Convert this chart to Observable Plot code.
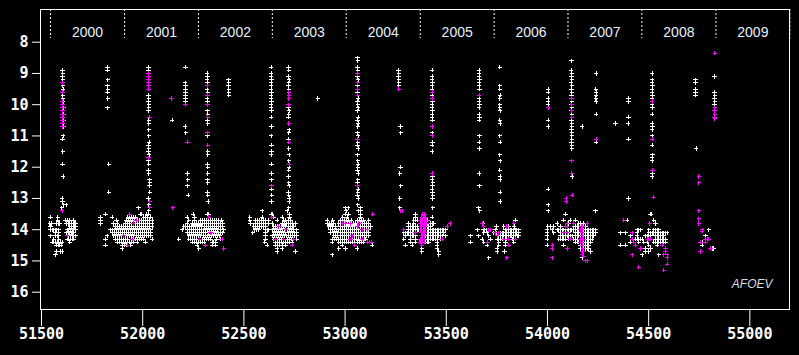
<!DOCTYPE html>
<html><head><meta charset="utf-8">
<script src="https://cdn.jsdelivr.net/npm/d3@7"></script>
<script src="https://cdn.jsdelivr.net/npm/@observablehq/plot@0.6"></script>
<style>html,body{margin:0;padding:0;background:#000;overflow:hidden;}</style>
</head><body><div id="chart"></div>
<script>
// ---- axis / label data ----
const yearNames = [2000, 2001, 2002, 2003, 2004, 2005, 2006, 2007, 2008, 2009];
const yearStarts = [51544.5, 51910.5, 52275.5, 52640.5, 53005.5, 53371.5, 53736.5, 54101.5, 54466.5, 54832.5, 55197.5];
const xTicks = [51500, 52000, 52500, 53000, 53500, 54000, 54500, 55000];
const yTicks = [8, 9, 10, 11, 12, 13, 14, 15, 16];
const credit = ["AFOEV"];

// ---- quiescent seasons, white observations: [magnitude, [JD-2400000 ...]] ----
const q2000 = [
  [13.6, [51544, 51581]],
  [13.7, [51581, 51619, 51627, 51640, 51660]],
  [13.8, [51541, 51549, 51574, 51582, 51590, 51624, 51632, 51640, 51648, 51656, 51664, 51668]],
  [13.9, [51544, 51640, 51648, 51656, 51664, 51668]],
  [14.0, [51544, 51552, 51560, 51568, 51576, 51584, 51627, 51635, 51643, 51651, 51660, 51668]],
  [14.1, [51569, 51586, 51623, 51631, 51639, 51647, 51655, 51660]],
  [14.2, [51544, 51569, 51577, 51586, 51635, 51643, 51651, 51660, 51668]],
  [14.3, [51561, 51586, 51627, 51635, 51643, 51651, 51660]],
  [14.4, [51553, 51561, 51569, 51577, 51586, 51594, 51602, 51640]],
  [14.5, [51574, 51582, 51590, 51598]],
  [14.7, [51574, 51594, 51602]],
  [14.8, [51569]]
];
const q2001 = [
  [13.3, [51979]],
  [13.5, [51816, 51987, 51995, 52020, 52030]],
  [13.6, [51791, 51849, 51926, 51936, 51946, 51956, 51966, 52006, 52016, 52026, 52039]],
  [13.7, [51791, 51870, 51920, 51930, 51940, 51950, 51960, 51975, 51985, 51995, 52005, 52015, 52025, 52035, 52047]],
  [13.8, [51791, 51854, 51874, 51915, 51925, 51935, 51945, 51965, 51975, 51985, 51995, 52005, 52015, 52025, 52035, 52047]],
  [13.9, [51866, 51876, 51886, 51896, 51906, 51916, 51926, 51936, 51946, 51956, 51966, 51976, 51986, 51996, 52006, 52016, 52026, 52036, 52047]],
  [14.0, [51841, 51851, 51861, 51871, 51881, 51891, 51901, 51911, 51921, 51931, 51941, 51951, 51961, 51971, 51981, 51991, 52001, 52011, 52021, 52031, 52039]],
  [14.1, [51849, 51859, 51869, 51879, 51889, 51899, 51909, 51919, 51929, 51939, 51949, 51959, 51969, 51979, 51989, 51999, 52009, 52019, 52029, 52039]],
  [14.2, [51824, 51857, 51867, 51877, 51887, 51897, 51917, 51927, 51937, 51947, 51957, 51967, 51977, 51987, 51997, 52007, 52017, 52027, 52039]],
  [14.3, [51816, 51866, 51876, 51886, 51896, 51906, 51916, 51926, 51946, 51956, 51966, 51976, 51986, 51996, 52006, 52047]],
  [14.4, [51874, 51884, 51894, 51904, 51914, 51924, 51934, 51944, 51956, 51973, 52014]],
  [14.5, [51816, 51899, 51909, 51921, 51940]],
  [14.6, [51899]]
];
const q2002 = [
  [13.5, [52249, 52319]],
  [13.6, [52220, 52256]],
  [13.7, [52228, 52256, 52286, 52296, 52306, 52316, 52326, 52336, 52346, 52356, 52366, 52376, 52390]],
  [13.8, [52220, 52244, 52254, 52264, 52274, 52284, 52294, 52304, 52314, 52324, 52334, 52344, 52354, 52364, 52374, 52384, 52394]],
  [13.9, [52203, 52213, 52223, 52233, 52243, 52253, 52263, 52273, 52283, 52293, 52303, 52313, 52323, 52333, 52343, 52353, 52363, 52373, 52384, 52395]],
  [14.0, [52195, 52220, 52230, 52240, 52250, 52260, 52270, 52280, 52290, 52300, 52310, 52320, 52330, 52340, 52350, 52360, 52370, 52384, 52400]],
  [14.1, [52220, 52230, 52240, 52250, 52260, 52270, 52280, 52290, 52300, 52310, 52325, 52345, 52355, 52365, 52375, 52384, 52395]],
  [14.2, [52228, 52238, 52248, 52258, 52268, 52278, 52288, 52298, 52308, 52318, 52328, 52338, 52348, 52358, 52368, 52380]],
  [14.3, [52178, 52228, 52238, 52248, 52258, 52268, 52294, 52304, 52314, 52324, 52335, 52365, 52385]],
  [14.4, [52244, 52254, 52264, 52274, 52284, 52294, 52304, 52343, 52352, 52361]],
  [14.5, [52269, 52343, 52360]],
  [14.6, [52277]]
];
const q2003 = [
  [13.4, [52591, 52714]],
  [13.5, [52640, 52726]],
  [13.6, [52530, 52591, 52648, 52689, 52726]],
  [13.7, [52530, 52558, 52568, 52578, 52588, 52598, 52608, 52624, 52665, 52698, 52708, 52718, 52730]],
  [13.8, [52533, 52558, 52568, 52578, 52588, 52598, 52608, 52624, 52640, 52689, 52699, 52709, 52719, 52729, 52739, 52755]],
  [13.9, [52549, 52559, 52569, 52579, 52589, 52599, 52607, 52648, 52658, 52668, 52678, 52688, 52698, 52708, 52718, 52728, 52738, 52747]],
  [14.0, [52554, 52564, 52574, 52607, 52617, 52624, 52640, 52650, 52660, 52670, 52680, 52690, 52700, 52716, 52726, 52736, 52746, 52760]],
  [14.1, [52544, 52607, 52648, 52658, 52668, 52678, 52688, 52698, 52708, 52718, 52728, 52738, 52748, 52760]],
  [14.2, [52607, 52640, 52650, 52660, 52670, 52680, 52690, 52700, 52710, 52720, 52730, 52740, 52750, 52760]],
  [14.3, [52607, 52648, 52666, 52676, 52686, 52696, 52716, 52726, 52736, 52760]],
  [14.4, [52604, 52656, 52666, 52676, 52686, 52696, 52706, 52716, 52726, 52739]],
  [14.5, [52615, 52656, 52666, 52676, 52689, 52706]],
  [14.6, [52665, 52689]],
  [14.7, [52665, 52755]]
];
const q2004 = [
  [13.3, [53002, 53015, 53076]],
  [13.4, [53006, 53076]],
  [13.5, [53002, 53019, 53076]],
  [13.6, [52989, 53010, 53076]],
  [13.7, [52912, 52940, 52978, 52988, 52998, 53008, 53018, 53030, 53060, 53070, 53080, 53092, 53118]],
  [13.8, [52912, 52922, 52932, 52945, 52969, 52979, 52996, 53010, 53020, 53030, 53040, 53050, 53060, 53078, 53088, 53098, 53108, 53118]],
  [13.9, [52920, 52930, 52940, 52953, 52978, 52988, 52998, 53008, 53018, 53028, 53038, 53048, 53058, 53076, 53086, 53096, 53106, 53116, 53126]],
  [14.0, [52928, 52938, 52948, 52958, 52968, 52978, 52988, 52998, 53008, 53018, 53028, 53038, 53048, 53058, 53068, 53078, 53095, 53105, 53118]],
  [14.1, [52928, 52945, 52955, 52965, 52975, 52985, 52995, 53005, 53015, 53025, 53035, 53045, 53055, 53065, 53075, 53085, 53095, 53105, 53118]],
  [14.2, [52945, 52955, 52965, 52975, 52985, 52995, 53005, 53015, 53025, 53045, 53055, 53065, 53075, 53085, 53095, 53105, 53118]],
  [14.3, [52936, 52946, 52956, 52966, 52976, 52986, 52996, 53006, 53016, 53036, 53046, 53056, 53066, 53076, 53094, 53101]],
  [14.4, [52936, 52969, 52979, 52989, 52999, 53009, 53019, 53029, 53039, 53049, 53059, 53069, 53079, 53093]],
  [14.5, [52986, 53134]],
  [14.6, [52969, 53002, 53060]],
  [14.8, [52936]]
];
const q2005 = [
  [13.5, [53348]],
  [13.6, [53348]],
  [13.7, [53339, 53348, 53356, 53409]],
  [13.8, [53314, 53339, 53422, 53432, 53438]],
  [13.9, [53314, 53323, 53331, 53339, 53348, 53356, 53405, 53414, 53422]],
  [14.0, [53290, 53314, 53323, 53331, 53339, 53348, 53356, 53364, 53405, 53414, 53422, 53430, 53438, 53446, 53455, 53463, 53471, 53479, 53488, 53496]],
  [14.1, [53290, 53298, 53306, 53314, 53323, 53331, 53339, 53347, 53405, 53414, 53422, 53430, 53438, 53446, 53455, 53463, 53471, 53488]],
  [14.2, [53298, 53323, 53331, 53339, 53348, 53397, 53405, 53414, 53422, 53430, 53438, 53446, 53455, 53463, 53471, 53479, 53496]],
  [14.3, [53290, 53323, 53348, 53405, 53414, 53422, 53430, 53438, 53446, 53455, 53471]],
  [14.4, [53323, 53348, 53397, 53405, 53414, 53455]],
  [14.5, [53298, 53331, 53455]],
  [14.6, [53380, 53455]],
  [14.7, [53380, 53463]],
  [14.8, [53463]]
];
const q2006 = [
  [13.3, [53660]],
  [13.4, [53665]],
  [13.7, [53842]],
  [13.8, [53682]],
  [13.9, [53748, 53784, 53809, 53836]],
  [14.0, [53655, 53682, 53690, 53700, 53743, 53792, 53800, 53808, 53816, 53824, 53832, 53840, 53848, 53858]],
  [14.1, [53685, 53702, 53735, 53748, 53768, 53776, 53784, 53792, 53800, 53808, 53816, 53824, 53832, 53840, 53848, 53858]],
  [14.2, [53619, 53660, 53710, 53760, 53768, 53776, 53784, 53792, 53800, 53808, 53816, 53824, 53832, 53840, 53850, 53858]],
  [14.3, [53677, 53718, 53751, 53760, 53768, 53776, 53792, 53800, 53825, 53833]],
  [14.4, [53619, 53685, 53760, 53792, 53833]],
  [14.5, [53702, 53760, 53792]],
  [14.6, [53751]],
  [14.7, [53751, 53787]],
  [14.9, [53710]]
];
const q2007 = [
  [13.4, [54004, 54237]],
  [13.5, [54089]],
  [13.7, [54080, 54113, 54138]],
  [13.8, [54048, 54105, 54155, 54163, 54180]],
  [13.9, [54001, 54015, 54031, 54064, 54130, 54138, 54146, 54155, 54188]],
  [14.0, [53998, 54023, 54048, 54056, 54064, 54072, 54080, 54089, 54097, 54105, 54113, 54121, 54130, 54138, 54146, 54155, 54180, 54188, 54196, 54204, 54212, 54221, 54229, 54237]],
  [14.1, [53998, 54031, 54064, 54072, 54089, 54105, 54138, 54146, 54155, 54163, 54180, 54188, 54196, 54204, 54212, 54221, 54229, 54237]],
  [14.2, [53998, 54064, 54072, 54080, 54089, 54097, 54105, 54113, 54122, 54138, 54146, 54155, 54163, 54180, 54188, 54196, 54204, 54212, 54221, 54229]],
  [14.3, [53998, 54056, 54064, 54072, 54080, 54089, 54105, 54130, 54138, 54146, 54188, 54196, 54204, 54212, 54221]],
  [14.4, [54138, 54146, 54155, 54180, 54188, 54196, 54204, 54212]],
  [14.5, [53998, 54080, 54163, 54180, 54188, 54196, 54204]],
  [14.6, [54163, 54180, 54188, 54196, 54204]],
  [14.7, [54212]],
  [14.9, [54171]]
];
const q2008 = [
  [13.5, [54509]],
  [13.7, [54394, 54525]],
  [13.8, [54534]],
  [14.0, [54443, 54451, 54460, 54501, 54525, 54534, 54542, 54550]],
  [14.1, [54361, 54385, 54443, 54501, 54509, 54517, 54525, 54534, 54542, 54550, 54558, 54567, 54575, 54583, 54591]],
  [14.2, [54410, 54443, 54484, 54492, 54501, 54509, 54534, 54542, 54550, 54558, 54567, 54575]],
  [14.3, [54435, 54443, 54451, 54460, 54468, 54534, 54542, 54550, 54558, 54567, 54575, 54583]],
  [14.4, [54410, 54451, 54476, 54492, 54525, 54534, 54542, 54550, 54558, 54567, 54575, 54583]],
  [14.5, [54361, 54385, 54501, 54542]],
  [14.6, [54484, 54509]],
  [14.7, [54484, 54501]],
  [14.8, [54468, 54550]]
];
const q2009 = [
  [14.0, [54797]],
  [14.2, [54781]],
  [14.4, [54764]],
  [14.5, [54764]],
  [14.6, [54814, 54822]]
];

// ---- outbursts and isolated white observations: [JD, magnitude] ----
const whiteOutbursts = [
  [51604, 8.9], [51606, 9.0], [51604, 9.1], [51606, 9.2], [51605, 9.4], [51607, 9.5], [51604, 9.6], [51606, 9.7], [51605, 9.8], [51607, 9.9],
  [51608, 10.1], [51609, 10.3], [51610, 10.5], [51609, 10.7], [51607, 11.0], [51603, 11.1], [51606, 11.5], [51603, 11.9], [51607, 12.3],
  [51602, 13.0], [51604, 13.1], [51610, 13.2], [51622, 13.2], [51600, 13.3],
  [51826, 8.8], [51826, 8.9], [51827, 9.2], [51826, 9.4], [51827, 9.5], [51826, 9.6], [51827, 9.8], [51826, 10.1], [51832, 11.9], [51833, 12.8],
  [52029, 8.8], [52028, 8.9], [52031, 9.0], [52029, 9.7], [52031, 9.8], [52029, 9.9], [52030, 10.0], [52031, 10.1], [52029, 10.2], [52031, 10.5],
  [52030, 10.6], [52031, 10.8], [52030, 11.0], [52032, 11.2], [52028, 11.3], [52031, 11.4], [52029, 11.5], [52032, 11.6], [52028, 11.8],
  [52031, 11.9], [52029, 12.1], [52031, 12.2], [52034, 12.4], [52035, 12.5], [52033, 12.6], [52035, 12.8], [52029, 13.0], [52031, 13.2], [52030, 13.4],
  [52146, 10.5],
  [52211, 8.8], [52210, 9.3], [52212, 9.4], [52211, 9.5], [52212, 9.6], [52211, 9.7], [52212, 9.8], [52211, 9.9], [52210, 10.7], [52213, 10.9],
  [52222, 12.2], [52223, 12.4], [52222, 12.6], [52225, 12.9],
  [52319, 9.0], [52320, 9.1], [52319, 9.2], [52320, 9.3], [52319, 9.5], [52321, 9.6], [52319, 9.8], [52320, 9.9], [52321, 10.0], [52320, 10.2],
  [52322, 10.3], [52320, 10.5], [52321, 10.6], [52320, 11.0], [52321, 11.5], [52322, 11.6], [52320, 11.9], [52321, 12.0], [52322, 12.2],
  [52320, 12.4], [52322, 12.5], [52320, 12.8], [52322, 12.9], [52323, 13.1], [52327, 13.5],
  [52424, 9.2], [52426, 9.3], [52424, 9.4], [52425, 9.5], [52426, 9.6], [52425, 9.7],
  [52634, 8.8], [52635, 9.0], [52634, 9.1], [52636, 9.2], [52635, 9.3], [52634, 9.4], [52635, 9.5], [52636, 9.6], [52634, 9.7], [52635, 9.8],
  [52636, 9.9], [52635, 10.0], [52634, 10.1], [52636, 10.2], [52635, 10.4], [52636, 10.7], [52635, 11.0], [52637, 11.3], [52636, 11.5],
  [52635, 11.6], [52636, 11.9], [52637, 12.2], [52636, 12.4], [52637, 12.7], [52638, 12.9], [52637, 13.1], [52636, 13.5],
  [52721, 8.8], [52722, 8.9], [52721, 9.1], [52723, 9.2], [52722, 9.3], [52721, 9.4], [52722, 9.5], [52722, 10.0], [52721, 10.1], [52723, 10.2],
  [52722, 10.3], [52721, 10.4], [52722, 10.6], [52723, 10.8], [52722, 10.9], [52721, 11.1], [52722, 11.4], [52723, 11.6], [52722, 11.8],
  [52723, 12.0], [52722, 12.1], [52721, 12.3], [52722, 12.5], [52723, 12.6], [52721, 12.8], [52722, 12.9], [52724, 13.0], [52723, 13.1], [52722, 13.3],
  [52865, 9.8],
  [53062, 8.5], [53063, 8.6], [53061, 8.8], [53063, 8.9], [53062, 9.1], [53064, 9.2], [53061, 9.4], [53063, 9.5], [53062, 9.6], [53064, 9.8],
  [53062, 9.9], [53063, 10.0], [53065, 10.1], [53062, 10.2], [53064, 10.4], [53062, 10.5], [53065, 10.6], [53063, 10.7], [53062, 10.9],
  [53064, 11.0], [53063, 11.2], [53062, 11.3], [53064, 11.4], [53062, 11.6], [53063, 11.8], [53065, 11.9], [53063, 12.0], [53062, 12.1],
  [53064, 12.2], [53063, 12.4], [53062, 12.5], [53064, 12.7], [53063, 12.8], [53062, 12.9], [53064, 13.0], [53063, 13.2], [53064, 13.4],
  [53264, 8.9], [53265, 9.0], [53264, 9.1], [53266, 9.2], [53265, 9.3], [53266, 9.4], [53274, 10.7], [53275, 10.9], [53274, 12.0],
  [53270, 12.2], [53275, 12.6], [53270, 13.0], [53270, 13.3],
  [53430, 8.9], [53431, 9.1], [53430, 9.2], [53432, 9.3], [53430, 9.4], [53431, 9.5], [53430, 9.7], [53432, 9.9], [53430, 10.0], [53431, 10.1],
  [53432, 10.2], [53430, 10.3], [53431, 10.4], [53432, 10.5], [53431, 10.9], [53432, 11.2], [53431, 11.3], [53430, 11.5], [53432, 12.3],
  [53431, 12.4], [53433, 12.5], [53432, 12.6], [53431, 12.7], [53432, 12.8], [53433, 12.9], [53432, 13.0], [53433, 13.3], [53431, 13.6],
  [53662, 8.9], [53663, 9.0], [53662, 9.1], [53664, 9.2], [53663, 9.3], [53662, 9.4], [53664, 9.5], [53663, 9.8], [53662, 9.9], [53664, 10.0],
  [53663, 10.1], [53662, 10.3], [53664, 10.4], [53663, 10.5], [53664, 11.0], [53663, 11.2], [53664, 11.4], [53663, 12.2], [53664, 12.6],
  [53764, 8.8], [53765, 9.4], [53764, 9.5], [53766, 9.7], [53765, 9.8], [53765, 10.0], [53764, 10.1], [53766, 10.2], [53765, 10.5],
  [53766, 10.6], [53765, 11.0], [53766, 11.2], [53765, 11.6], [53766, 11.8], [53765, 12.1], [53766, 12.3], [53767, 12.4], [53766, 12.8], [53767, 13.1],
  [54003, 9.5], [54004, 9.6], [54003, 9.8], [54004, 9.9], [54004, 10.0], [54003, 10.5], [54004, 10.7], [54003, 12.7], [54004, 13.2],
  [54119, 8.6], [54118, 8.9], [54120, 9.0], [54119, 9.1], [54121, 9.2], [54118, 9.3], [54120, 9.4], [54119, 9.5], [54121, 9.6], [54119, 9.7],
  [54120, 9.9], [54118, 10.0], [54121, 10.1], [54119, 10.2], [54120, 10.3], [54121, 10.4], [54119, 10.5], [54120, 10.6], [54121, 10.7],
  [54119, 10.8], [54120, 10.9], [54121, 11.0], [54120, 11.1], [54119, 11.2], [54121, 11.3], [54120, 11.4], [54122, 12.3], [54172, 10.7],
  [54240, 9.0], [54239, 9.5], [54241, 9.6], [54240, 9.7], [54239, 9.8], [54240, 9.9], [54241, 10.3], [54241, 11.2],
  [54336, 10.6], [54400, 9.8], [54401, 9.9], [54400, 10.4], [54399, 10.6], [54401, 11.1], [54400, 13.0],
  [54517, 9.0], [54518, 9.2], [54517, 9.3], [54519, 9.4], [54518, 9.5], [54517, 9.6], [54519, 9.7], [54518, 9.8], [54517, 10.0], [54519, 10.1],
  [54518, 10.3], [54517, 10.6], [54519, 10.7], [54518, 10.8], [54517, 11.0], [54518, 11.3], [54519, 11.6], [54518, 11.7], [54517, 11.8],
  [54519, 12.2], [54518, 12.3], [54513, 13.5],
  [54731, 9.2], [54732, 9.3], [54731, 9.5], [54732, 9.6], [54731, 9.7], [54735, 11.4],
  [54826, 9.1], [54826, 9.6], [54827, 9.7], [54826, 9.8], [54827, 9.9], [54826, 10.0]
];

// ---- magenta observations: [JD, magnitude] ----
const magentaObs = [
  [51603, 9.3], [51604, 9.6], [51602, 9.9], [51602, 10.0], [51606, 10.0], [51603, 10.1], [51602, 10.2], [51606, 10.2], [51604, 10.3],
  [51602, 10.4], [51607, 10.4], [51603, 10.5], [51604, 10.6], [51606, 10.6], [51604, 10.7], [51602, 13.4], [51627, 14.2],
  [51936, 13.5], [51969, 13.7], [51953, 13.8], [51907, 14.2], [51948, 14.3], [51927, 14.5],
  [52029, 9.0], [52029, 9.1], [52029, 9.2], [52029, 9.3], [52029, 9.4], [52029, 9.5], [52034, 10.4], [52029, 11.7], [52035, 13.1], [52034, 13.3],
  [52141, 9.8], [52149, 13.3],
  [52211, 10.0], [52222, 11.2],
  [52319, 9.4], [52320, 9.7], [52320, 10.0], [52321, 10.4], [52320, 10.9], [52321, 11.3],
  [52327, 13.6], [52335, 14.1], [52282, 14.3], [52393, 14.3], [52310, 14.5], [52401, 14.6],
  [52636, 12.6], [52638, 13.6],
  [52722, 9.6], [52722, 9.7], [52722, 9.8], [52721, 10.0], [52722, 10.6], [52722, 11.2], [52723, 11.9],
  [52673, 13.9], [52706, 14.0], [52656, 14.3], [52698, 14.3], [52747, 14.3], [52739, 14.5],
  [53062, 9.0], [53063, 9.3], [53062, 9.5], [53063, 9.7], [53061, 11.1], [53062, 12.6],
  [53137, 13.5], [52989, 13.8], [53002, 13.8], [53027, 13.8], [53068, 13.8], [53060, 13.9], [53085, 14.0], [53110, 14.0], [53035, 14.2],
  [53027, 14.3], [53085, 14.3], [53110, 14.4], [53121, 14.4], [53131, 14.4], [53048, 14.5],
  [53266, 9.5], [53276, 13.4],
  [53430, 9.6], [53431, 9.8], [53430, 10.7], [53431, 11.0], [53431, 12.2],
  [53282, 13.4], [53385, 13.5], [53392, 13.5],
  [53380, 13.6], [53386, 13.6], [53392, 13.6], [53398, 13.6],
  [53372, 13.7], [53378, 13.7], [53384, 13.7], [53390, 13.7], [53396, 13.7], [53402, 13.7],
  [53372, 13.8], [53378, 13.8], [53384, 13.8], [53390, 13.8], [53396, 13.8], [53402, 13.8], [53520, 13.8],
  [53374, 13.9], [53380, 13.9], [53386, 13.9], [53392, 13.9], [53398, 13.9], [53504, 13.9],
  [53290, 14.0], [53374, 14.0], [53380, 14.0], [53386, 14.0], [53392, 14.0], [53398, 14.0],
  [53348, 14.1], [53376, 14.1], [53382, 14.1], [53388, 14.1], [53394, 14.1],
  [53378, 14.2], [53384, 14.2], [53390, 14.2],
  [53372, 14.3], [53378, 14.3], [53384, 14.3], [53390, 14.3], [53479, 14.3],
  [53366, 14.4], [53372, 14.4], [53378, 14.4], [53384, 14.4], [53390, 14.4], [53380, 14.5],
  [53663, 9.7],
  [53677, 13.8], [53833, 13.8], [53685, 13.9], [53800, 13.9], [53710, 14.0], [53718, 14.0], [53743, 14.1], [53760, 14.1], [53751, 14.2],
  [53784, 14.3], [53808, 14.3], [53841, 14.3], [53702, 14.4], [53809, 14.5], [53800, 14.9],
  [54003, 10.1],
  [54119, 9.8], [54120, 10.0], [54120, 10.2], [54121, 10.4], [54119, 11.8], [54120, 12.2], [54122, 12.9],
  [54092, 13.0], [54092, 13.1], [54097, 13.8], [54130, 13.8], [54196, 13.8], [54089, 13.9], [54097, 13.9], [54167, 13.9], [54175, 13.9],
  [54163, 14.0], [54171, 14.0], [54080, 14.1], [54097, 14.1], [54171, 14.1], [54171, 14.2], [54114, 14.3], [54163, 14.3], [54171, 14.3],
  [54180, 14.3], [54163, 14.4], [54171, 14.4], [54171, 14.5], [54023, 14.5], [54023, 14.6], [54097, 14.6], [54175, 14.6], [54171, 14.7],
  [54180, 14.7], [54171, 14.8], [54180, 14.85], [54023, 14.9], [54188, 15.0], [54196, 15.0],
  [54240, 11.1],
  [54518, 9.9], [54518, 11.1], [54519, 12.1], [54525, 12.96],
  [54377, 13.7], [54505, 13.8], [54418, 14.1], [54418, 14.3], [54492, 14.3], [54501, 14.3], [54509, 14.3], [54427, 14.4], [54435, 14.5],
  [54567, 14.5], [54460, 14.6], [54583, 14.6], [54583, 14.7], [54418, 14.8], [54575, 14.8], [54591, 14.8], [54591, 14.9], [54591, 15.1],
  [54451, 15.2], [54575, 15.3],
  [54748, 12.3], [54748, 12.5], [54748, 13.4], [54748, 13.65], [54748, 13.8], [54764, 14.0], [54764, 14.05], [54756, 14.4], [54781, 14.3],
  [54789, 14.3], [54797, 14.3], [54805, 14.6], [54756, 14.7], [54781, 14.4],
  [54827, 8.35], [54827, 10.1], [54826, 10.2], [54827, 10.3], [54826, 10.4], [54827, 10.45]
];

// ---- assemble tables ----
const rowsToObs = rows => rows.flatMap(([mag, jds]) => jds.map(jd => ({jd, mag})));
const whiteData = [q2000, q2001, q2002, q2003, q2004, q2005, q2006, q2007, q2008, q2009].flatMap(rowsToObs)
  .concat(whiteOutbursts.map(([jd, mag]) => ({jd, mag})));
const magentaData = magentaObs.map(([jd, mag]) => ({jd, mag}));
const yearTable = yearNames.map((y, i) => ({year: String(y), mid: (yearStarts[i] + yearStarts[i + 1]) / 2}));

const chart = Plot.plot({
  width: 799,
  height: 355,
  marginLeft: 40,
  marginRight: 10,
  marginTop: 9,
  marginBottom: 46,
  x: {domain: [51495, 55196]},
  y: {domain: [16.554, 6.954]},
  style: {background: "#000", color: "#fff", fontFamily: "DejaVu Sans Mono", fontSize: "15px", fontWeight: "bold", overflow: "visible"},
  marks: [
    Plot.ruleX(yearStarts, {x: d => d, stroke: "#fff", strokeDasharray: "2,2", insetBottom: 271}),
    Plot.text(yearTable, {x: "mid", text: "year", frameAnchor: "top", dy: 18, fill: "#e6f0ff",
      fontFamily: "Liberation Sans, Arial, sans-serif", fontSize: 14, fontWeight: "normal"}),
    Plot.dot(whiteData, {x: "jd", y: "mag", symbol: "plus", r: 1.5, stroke: "#fff", strokeWidth: 1, shapeRendering: "crispEdges"}),
    Plot.dot(magentaData, {x: "jd", y: "mag", symbol: "plus", r: 1.5, stroke: "#ff00ff", strokeWidth: 1, shapeRendering: "crispEdges"}),
    Plot.text(credit, {text: d => d, frameAnchor: "bottom-right", dx: -17, dy: -22, textAnchor: "end", fill: "#d8dce8",
      fontFamily: "Liberation Sans, Arial, sans-serif", fontSize: 12, fontStyle: "italic", fontWeight: "normal"}),
    Plot.axisX({ticks: xTicks, tickSize: 17, tickPadding: 2, tickFormat: d => String(d), label: null}),
    Plot.axisY({ticks: yTicks, tickSize: 8, tickPadding: 4, label: null}),
    Plot.frame({stroke: "#fff"})
  ]
});
document.getElementById("chart").appendChild(chart);
</script>
</body></html>
